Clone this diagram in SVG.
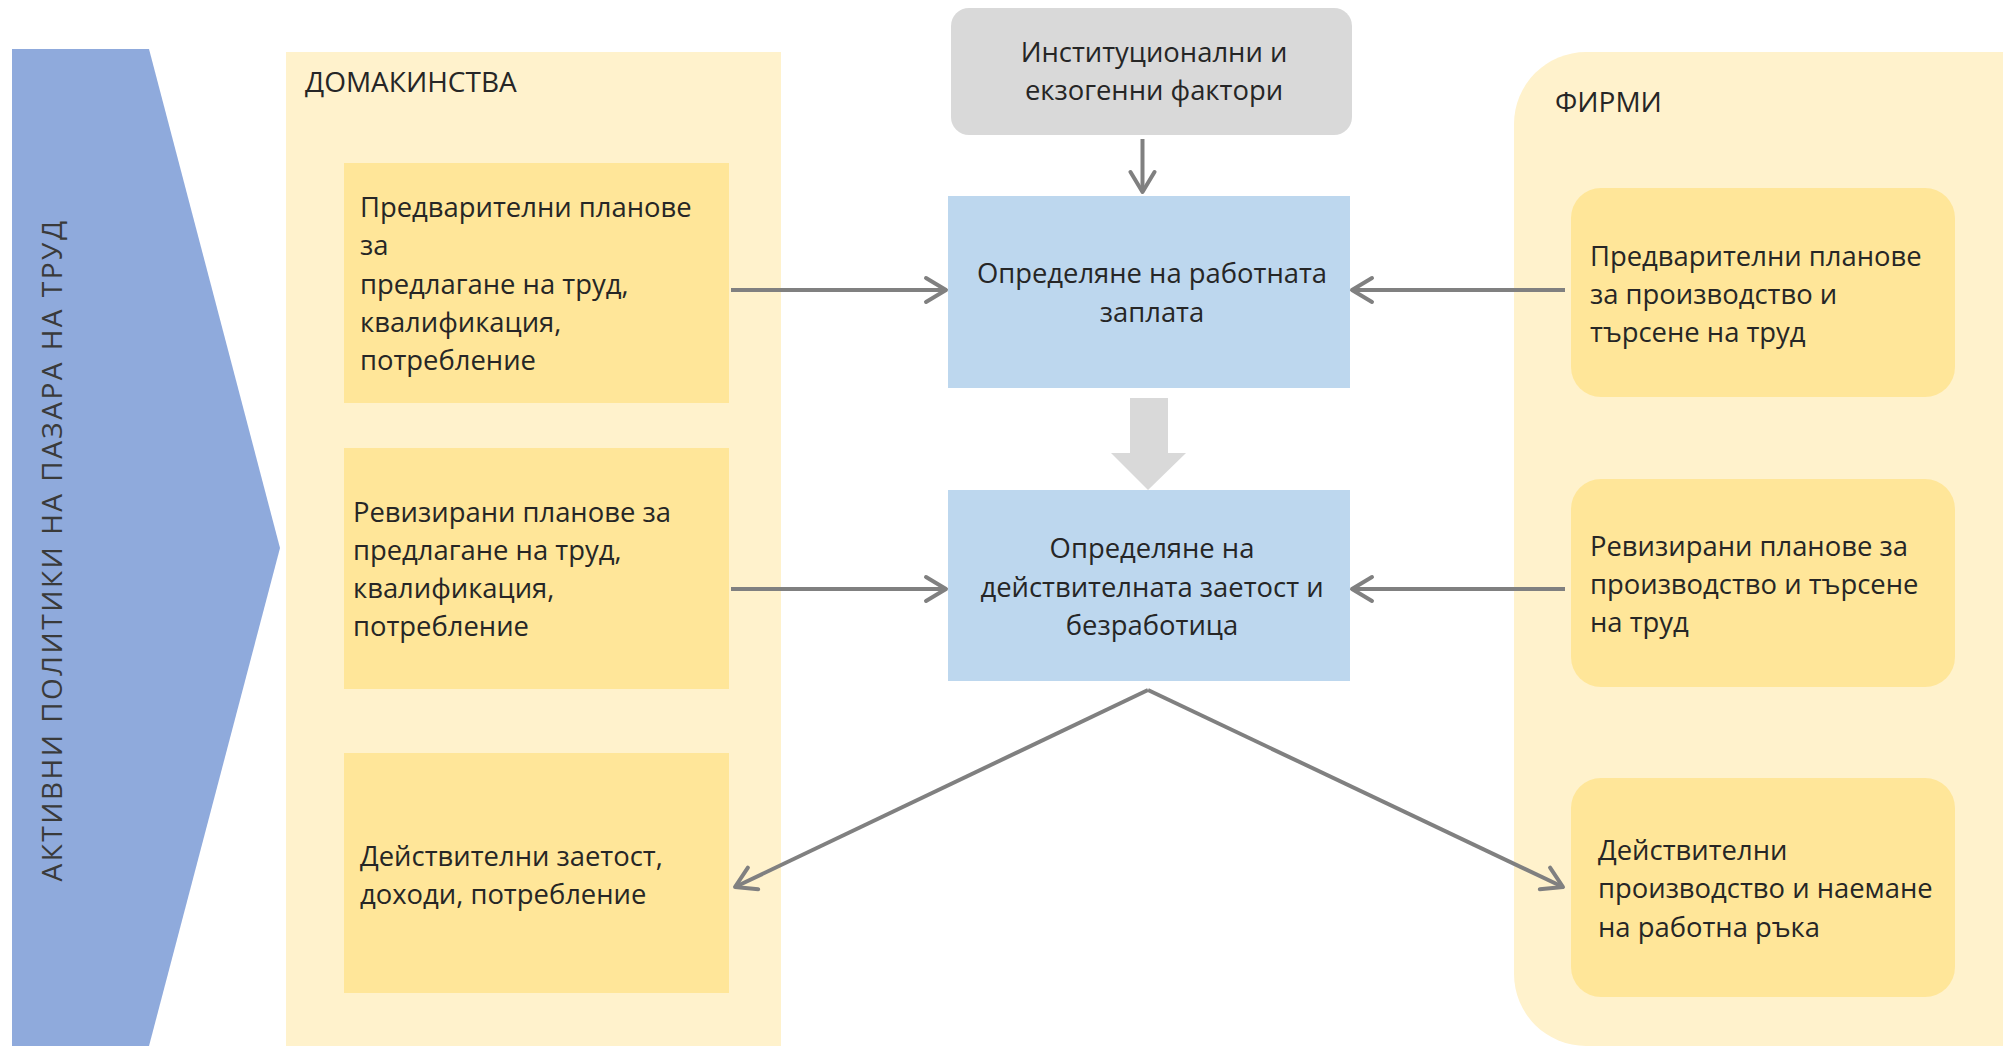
<svg xmlns="http://www.w3.org/2000/svg" width="2003" height="1046" viewBox="0 0 2003 1046">
<defs>
<style>
.t{font-family:"Open Sans","Noto Sans",sans-serif;font-size:27.4px;fill:#262626}
.h{font-family:"Open Sans","Noto Sans",sans-serif;font-size:28px;fill:#262626}
.c{text-anchor:middle}
.panel{fill:#FFF2CC}
.hb{fill:#FFE699}
.blue{fill:#BDD7EE}
.ln{stroke:#808080;stroke-width:4;fill:none}
</style>
<marker id="ah" markerUnits="userSpaceOnUse" markerWidth="26" markerHeight="30" viewBox="0 0 26 30" refX="23" refY="15" orient="auto">
<path d="M3,3 L23,15 L3,27" fill="none" stroke="#808080" stroke-width="4" stroke-linecap="round" stroke-linejoin="round"/>
</marker>
</defs>
<rect width="2003" height="1046" fill="#FFFFFF"/>

<g id="policy">
<polygon points="12,49 149,49 280,548 149,1046 12,1046" fill="#8FAADC"/>
<text class="t" transform="translate(62,550) rotate(-90)" text-anchor="middle" style="font-size:28px;letter-spacing:2.5px;fill:#3A3A3A">АКТИВНИ ПОЛИТИКИ НА ПАЗАРА НА ТРУД</text>
</g>

<g id="households">
<rect class="panel" x="286" y="52" width="495" height="1000"/>
<text class="h" x="305" y="92">ДОМАКИНСТВА</text>
</g>

<g id="firms">
<rect class="panel" x="1514" y="52" width="580" height="994" rx="72" ry="72"/>
<text class="h" x="1555" y="112">ФИРМИ</text>
</g>

<g id="hh-prelim">
<rect class="hb" x="344" y="163" width="385" height="240"/>
<text class="t" x="360" y="217">Предварителни планове</text>
<text class="t" x="360" y="255.3">за</text>
<text class="t" x="360" y="293.6">предлагане на труд,</text>
<text class="t" x="360" y="331.9">квалификация,</text>
<text class="t" x="360" y="370.2">потребление</text>
</g>

<g id="hh-revised">
<rect class="hb" x="344" y="448" width="385" height="241"/>
<text class="t" x="353" y="522">Ревизирани планове за</text>
<text class="t" x="353" y="560">предлагане на труд,</text>
<text class="t" x="353" y="598">квалификация,</text>
<text class="t" x="353" y="636">потребление</text>
</g>

<g id="hh-actual">
<rect class="hb" x="344" y="753" width="385" height="240"/>
<text class="t" x="360" y="866">Действителни заетост,</text>
<text class="t" x="360" y="904">доходи, потребление</text>
</g>

<g id="factors">
<rect x="951" y="8" width="401" height="127" rx="18" ry="18" fill="#D9D9D9"/>
<text class="t c" x="1154" y="62">Институционални и</text>
<text class="t c" x="1154" y="100">екзогенни фактори</text>
</g>

<g id="wage">
<rect class="blue" x="948" y="196" width="402" height="192"/>
<text class="t c" x="1152" y="283">Определяне на работната</text>
<text class="t c" x="1152" y="321.5">заплата</text>
</g>

<g id="employment">
<rect class="blue" x="948" y="490" width="402" height="191"/>
<text class="t c" x="1152" y="557.5">Определяне на</text>
<text class="t c" x="1152" y="596.5">действителната заетост и</text>
<text class="t c" x="1152" y="635">безработица</text>
</g>

<g id="firm-prelim">
<rect class="hb" x="1571" y="188" width="384" height="209" rx="30" ry="30"/>
<text class="t" x="1590" y="265.5">Предварителни планове</text>
<text class="t" x="1590" y="303.5">за производство и</text>
<text class="t" x="1590" y="341.5">търсене на труд</text>
</g>

<g id="firm-revised">
<rect class="hb" x="1571" y="479" width="384" height="208" rx="30" ry="30"/>
<text class="t" x="1590" y="556">Ревизирани планове за</text>
<text class="t" x="1590" y="594">производство и търсене</text>
<text class="t" x="1590" y="632">на труд</text>
</g>

<g id="firm-actual">
<rect class="hb" x="1571" y="778" width="384" height="219" rx="30" ry="30"/>
<text class="t" x="1598" y="860">Действителни</text>
<text class="t" x="1598" y="898">производство и наемане</text>
<text class="t" x="1598" y="936.5">на работна ръка</text>
</g>

<g id="connectors">
<line class="ln" x1="1142.5" y1="139" x2="1142.5" y2="192" marker-end="url(#ah)"/>
<line class="ln" x1="731" y1="290" x2="946" y2="290" marker-end="url(#ah)"/>
<line class="ln" x1="1565" y1="290" x2="1352" y2="290" marker-end="url(#ah)"/>
<line class="ln" x1="731" y1="589" x2="946" y2="589" marker-end="url(#ah)"/>
<line class="ln" x1="1565" y1="589" x2="1352" y2="589" marker-end="url(#ah)"/>
<polygon points="1130,398 1168,398 1168,453 1186,453 1148,490 1111,453 1130,453" fill="#D9D9D9"/>
<line class="ln" x1="1148" y1="690" x2="735" y2="887" marker-end="url(#ah)"/>
<line class="ln" x1="1148" y1="690" x2="1563" y2="887" marker-end="url(#ah)"/>
</g>
</svg>
